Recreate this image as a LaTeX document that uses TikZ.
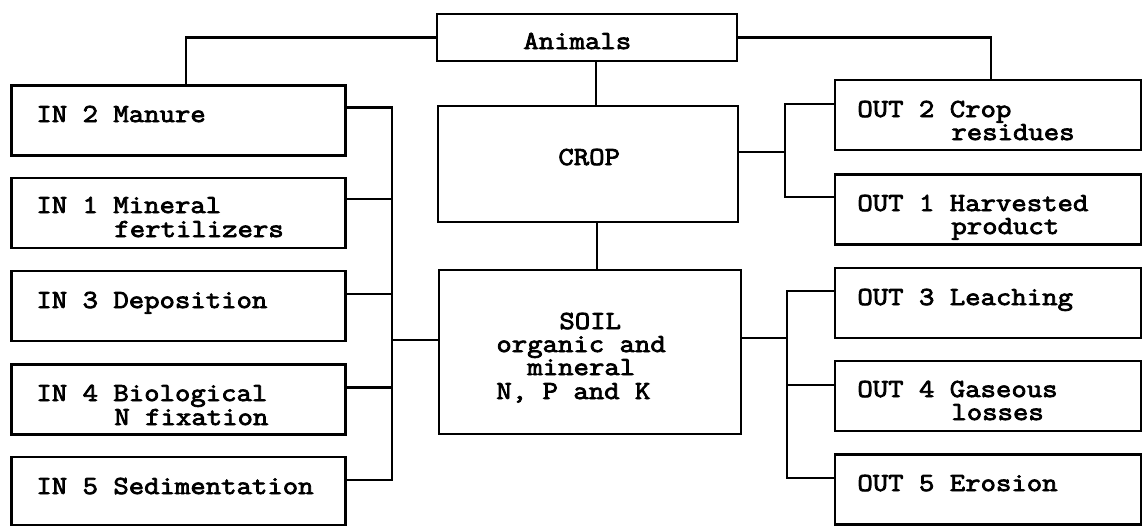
\documentclass[tikz,border=0pt]{standalone}
\usepackage{fontspec}
\setmonofont[FakeStretch=1.15, FakeBold=3]{Latin Modern Mono}
\begin{document}
\begin{tikzpicture}[x=0.5pt,y=-0.5pt,
  box/.style={draw, line width=1.4pt, rectangle, inner sep=0pt, outer sep=0pt},
  inbox/.style={box, minimum width=167pt, minimum height=35pt},
  outbox/.style={box, minimum width=153pt, minimum height=35pt},
  lbl/.style={anchor=base west, inner sep=0pt, font=\fontsize{13pt}{15pt}\ttfamily},
  link/.style={line width=1.4pt, line cap=rect}]
\useasboundingbox[fill=white] (0,0) rectangle (1143,527);

% central column
\node[box, minimum width=150pt, minimum height=23.5pt] (anim) at (587,37.5) {};
\node[box, minimum width=150pt, minimum height=58pt] (crop) at (588,164) {};
\node[box, minimum width=151pt, minimum height=82pt] (soil) at (590,352) {};

% inputs
\node[inbox] (in2) at (178.5,120.5) {};
\node[inbox] (in1) at (178.5,213) {};
\node[inbox] (in3) at (178.5,306) {};
\node[inbox] (in4) at (178.5,399.5) {};
\node[inbox, minimum height=34pt] (in5) at (178.5,491) {};

% outputs
\node[outbox] (out2) at (988,115) {};
\node[outbox] (out1) at (988,209.5) {};
\node[outbox] (out3) at (988,303) {};
\node[outbox] (out4) at (988,396) {};
\node[outbox] (out5) at (988,489.5) {};

% labels
\node[lbl] (tanim) at (523,49) {Animals};
\node[lbl] (tcrop) at (558,165) {CROP};
\node[lbl] (ts1) at (559,329) {SOIL};
\node[lbl] (ts2) at (496,352) {organic and};
\node[lbl] (ts3) at (527,375) {mineral};
\node[lbl] (ts4) at (496,399) {N, P and K};

\node[lbl] (ti2) at (36,122) {IN 2 Manure};
\node[lbl] (ti1a) at (36,213) {IN 1 Mineral};
\node[lbl] (ti1b) at (114,237) {fertilizers};
\node[lbl] (ti3) at (36,308) {IN 3 Deposition};
\node[lbl] (ti4a) at (36,401) {IN 4 Biological};
\node[lbl] (ti4b) at (114,425) {N fixation};
\node[lbl] (ti5) at (36,494) {IN 5 Sedimentation};

\node[lbl] (to2a) at (857,117) {OUT 2 Crop};
\node[lbl] (to2b) at (951,140) {residues};
\node[lbl] (to1a) at (857,211) {OUT 1 Harvested};
\node[lbl] (to1b) at (951,234) {product};
\node[lbl] (to3) at (857,305) {OUT 3 Leaching};
\node[lbl] (to4a) at (857,397) {OUT 4 Gaseous};
\node[lbl] (to4b) at (951,420) {losses};
\node[lbl] (to5) at (857,491) {OUT 5 Erosion};

% bus positions
\coordinate (lbus) at (392,0);
\coordinate (rbusc) at (785,0);
\coordinate (rbuss) at (787,0);

% animals links
\draw[link] (anim.west) -| ([xshift=3.75pt]in2.north);
\draw[link] (anim.east) -| ([xshift=1.5pt]out2.north);
\draw[link] ([xshift=4.5pt]anim.south) -- ([xshift=4.5pt]anim.south |- crop.north);
\draw[link] ([xshift=4.5pt]crop.south) -- ([xshift=4.5pt]crop.south |- soil.north);

% inputs to soil
\draw[link] ([yshift=6.5pt]in2.east) -| ([yshift=5.5pt]in5.east -| lbus) -- ([yshift=5.5pt]in5.east);
\draw[link] ([yshift=7pt]in1.east) -- ([yshift=7pt]in1.east -| lbus);
\draw[link] ([yshift=6pt]in3.east) -- ([yshift=6pt]in3.east -| lbus);
\draw[link] ([yshift=6pt]in4.east) -- ([yshift=6pt]in4.east -| lbus);
\draw[link] ([yshift=6pt]soil.west) -- ([yshift=6pt]soil.west -| lbus);

% crop outputs
\draw[link] ([yshift=5.5pt]out2.west) -| ([yshift=6.25pt]out1.west -| rbusc) -- ([yshift=6.25pt]out1.west);
\draw[link] ([yshift=6pt]crop.east) -- ([yshift=6pt]crop.east -| rbusc);

% soil outputs
\draw[link] ([yshift=6pt]out3.west) -| ([yshift=5.75pt]out5.west -| rbuss) -- ([yshift=5.75pt]out5.west);
\draw[link] ([yshift=5.5pt]out4.west) -- ([yshift=5.5pt]out4.west -| rbuss);
\draw[link] ([yshift=7pt]soil.east) -- ([yshift=7pt]soil.east -| rbuss);
\end{tikzpicture}
\end{document}
